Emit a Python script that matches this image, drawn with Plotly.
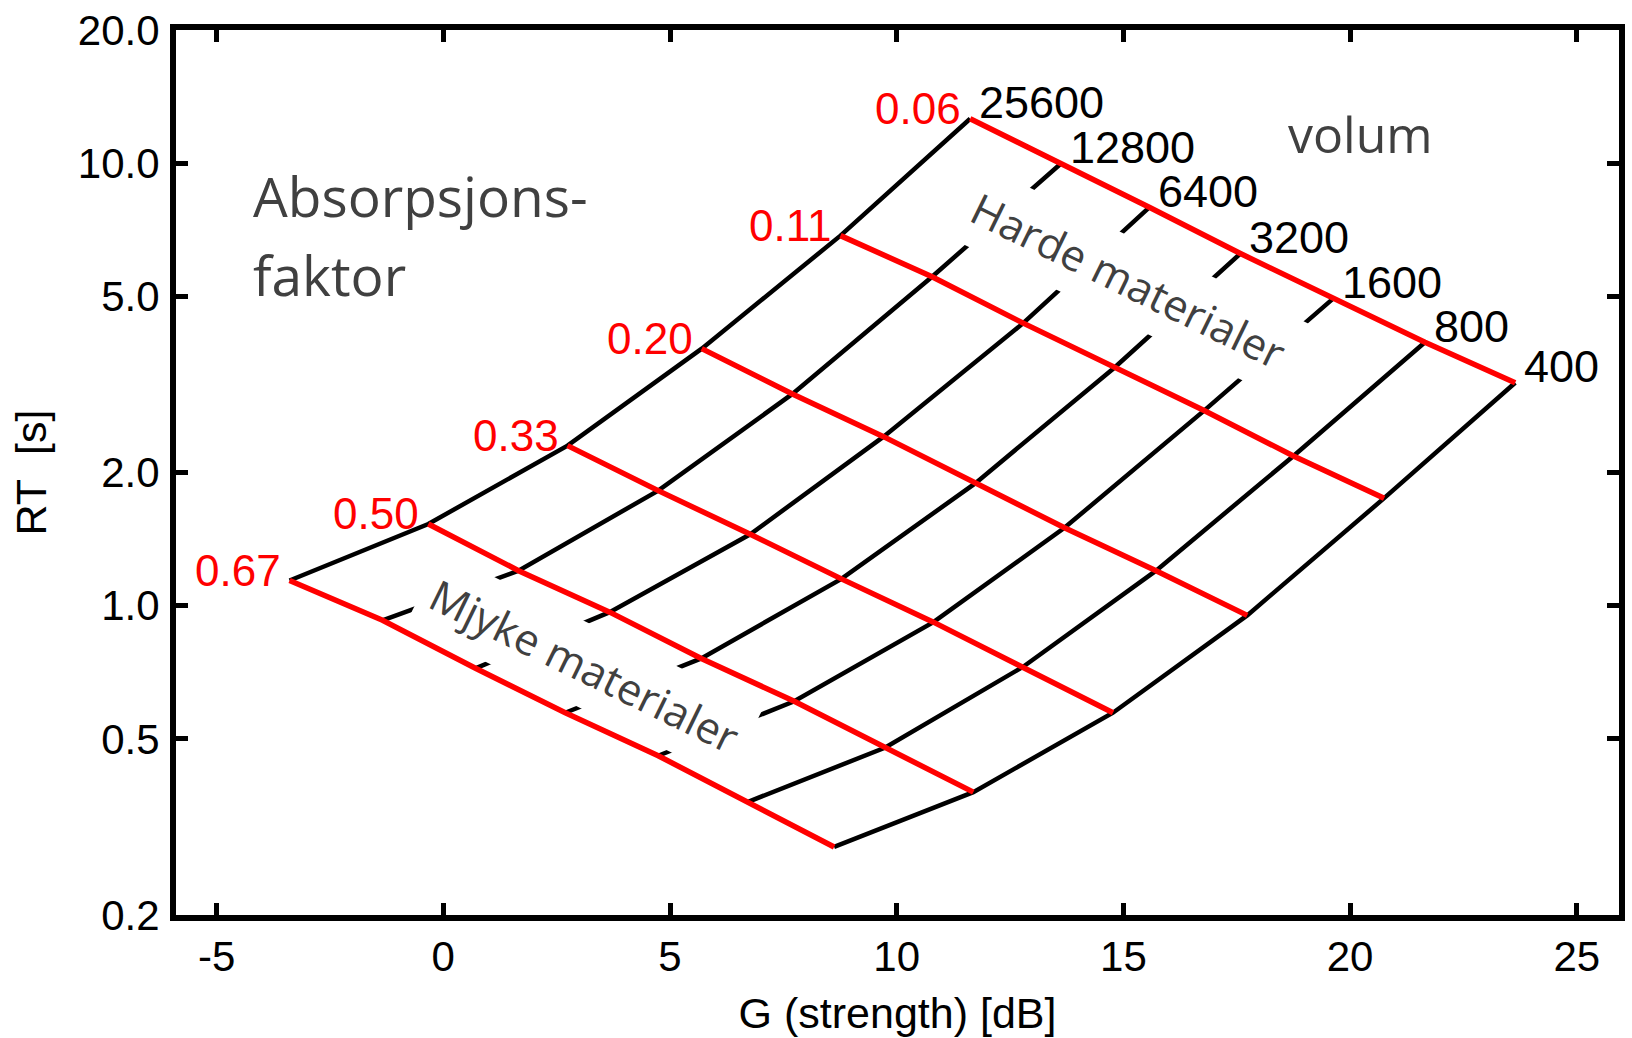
import numpy as np
import plotly.graph_objects as go

# Room volumes (m^3) and absorption factors of the nomogram
volumes = [25600, 12800, 6400, 3200, 1600, 800, 400]
absorption = ["0.06", "0.11", "0.20", "0.33", "0.50", "0.67"]

# Strength G (dB) and reverberation time RT (s) per volume, one pair of rows per absorption factor
g_006 = [11.62, 13.63, 15.57, 17.58, 19.63, 21.65, 23.64]
rt_006 = [12.6, 10.0, 7.95, 6.25, 4.95, 3.94, 3.19]
g_011 = [8.76, 10.78, 12.79, 14.80, 16.78, 18.75, 20.75]
rt_011 = [6.86, 5.54, 4.35, 3.45, 2.76, 2.18, 1.75]
g_020 = [5.70, 7.70, 9.71, 11.73, 13.70, 15.72, 17.73]
rt_020 = [3.81, 3.01, 2.41, 1.89, 1.50, 1.20, 0.951]
g_033 = [2.74, 4.74, 6.77, 8.78, 10.81, 12.79, 14.77]
rt_033 = [2.30, 1.82, 1.45, 1.15, 0.918, 0.728, 0.573]
g_050 = [-0.33, 1.66, 3.67, 5.69, 7.74, 9.75, 11.69]
rt_050 = [1.53, 1.20, 0.967, 0.760, 0.608, 0.478, 0.379]
g_067 = [-3.39, -1.34, 0.71, 2.69, 4.74, 6.71, 8.62]
rt_067 = [1.14, 0.927, 0.722, 0.573, 0.458, 0.360, 0.285]

x_ticks = [-5, 0, 5, 10, 15, 20, 25]
x_ticktext = ["-5", "0", "5", "10", "15", "20", "25"]
y_ticks = [0.2, 0.5, 1.0, 2.0, 5.0, 10.0, 20.0]
y_ticktext = ["0.2", "0.5", "1.0", "2.0", "5.0", "10.0", "20.0"]

g_rows = [g_006, g_011, g_020, g_033, g_050, g_067]
rt_rows = [rt_006, rt_011, rt_020, rt_033, rt_050, rt_067]

RED = "#ff0000"
GRAY = "#404040"
NUM_FONT = "Liberation Sans, Arial, sans-serif"
TXT_FONT = "Open Sans, sans-serif"

fig = go.Figure()

# constant-volume curves (black)
for j, v in enumerate(volumes):
    fig.add_trace(go.Scatter(
        x=[row[j] for row in g_rows],
        y=[row[j] for row in rt_rows],
        mode="lines", line=dict(color="black", width=4.5),
        showlegend=False, hoverinfo="skip",
    ))

# constant-absorption lines (red)
for a, gx, ry in zip(absorption, g_rows, rt_rows):
    fig.add_trace(go.Scatter(
        x=gx, y=ry, mode="lines", line=dict(color=RED, width=5.5),
        showlegend=False, hoverinfo="skip",
    ))

annotations = []
# absorption factor labels at the largest-volume end of each red line
for a, gx, ry in zip(absorption, g_rows, rt_rows):
    annotations.append(dict(
        x=gx[0], y=np.log10(ry[0]), xref="x", yref="y", text=a,
        showarrow=False, xanchor="right", yanchor="middle",
        xshift=-7, yshift=10, font=dict(family=NUM_FONT, size=44, color=RED),
    ))
# volume labels at the top end of each black curve
for j, v in enumerate(volumes):
    annotations.append(dict(
        x=g_006[j], y=np.log10(rt_006[j]), xref="x", yref="y", text=str(v),
        showarrow=False, xanchor="left", yanchor="middle",
        xshift=7, yshift=16, font=dict(family=NUM_FONT, size=45, color="black"),
    ))

annotations += [
    dict(x=1365, y=130, text="volum", showarrow=False,
         xanchor="center", yanchor="middle",
         font=dict(family=TXT_FONT, size=50, color=GRAY)),
    dict(x=251, y=192, text="Absorpsjons-", showarrow=False,
         xanchor="left", yanchor="middle",
         font=dict(family=TXT_FONT, size=55, color=GRAY)),
    dict(x=251, y=272, text="faktor", showarrow=False,
         xanchor="left", yanchor="middle",
         font=dict(family=TXT_FONT, size=55, color=GRAY)),
    dict(x=15.12, y=0.735, xref="x", yref="y", text="Harde materialer",
         showarrow=False, textangle=26, bgcolor="white", borderpad=10,
         font=dict(family=TXT_FONT, size=43, color=GRAY)),
    dict(x=3.11, y=-0.136, xref="x", yref="y", text="Mjyke materialer",
         showarrow=False, textangle=26, bgcolor="white", borderpad=10,
         font=dict(family=TXT_FONT, size=43, color=GRAY)),
]

# pixel-positioned text converted to paper coordinates
W, H = 1632, 1038
ML, MR, MT, MB = 176, 7, 26, 123
pw, ph = W - ML - MR, H - MT - MB
for ann in annotations:
    if ann.get("xref") != "x":
        ann["xref"] = "paper"
        ann["yref"] = "paper"
        ann["x"] = (ann["x"] - ML) / pw
        ann["y"] = 1 - (ann["y"] - MT) / ph

axis_common = dict(
    showline=True, linecolor="black", linewidth=6, mirror="ticks",
    ticks="inside", ticklen=12, tickwidth=5, tickcolor="black",
    showgrid=False, zeroline=False,
    tickfont=dict(family=NUM_FONT, size=42, color="black"),
    title_font=dict(family=NUM_FONT, size=43, color="black"),
)

fig.update_layout(
    width=W, height=H,
    margin=dict(l=ML, r=MR, t=MT, b=MB),
    paper_bgcolor="white", plot_bgcolor="white",
    xaxis=dict(range=[-5.895, 25.93], tickvals=x_ticks, ticktext=x_ticktext,
               title=dict(text="G (strength) [dB]", standoff=20),
               ticklabelstandoff=0, **axis_common),
    yaxis=dict(type="log", range=[np.log10(0.2), np.log10(20)],
               tickvals=y_ticks, ticktext=y_ticktext,
               title=dict(text="RT\u00a0 [s]", standoff=20),
               ticklabelstandoff=2, **axis_common),
    annotations=annotations,
)

fig.write_html("out.html")
